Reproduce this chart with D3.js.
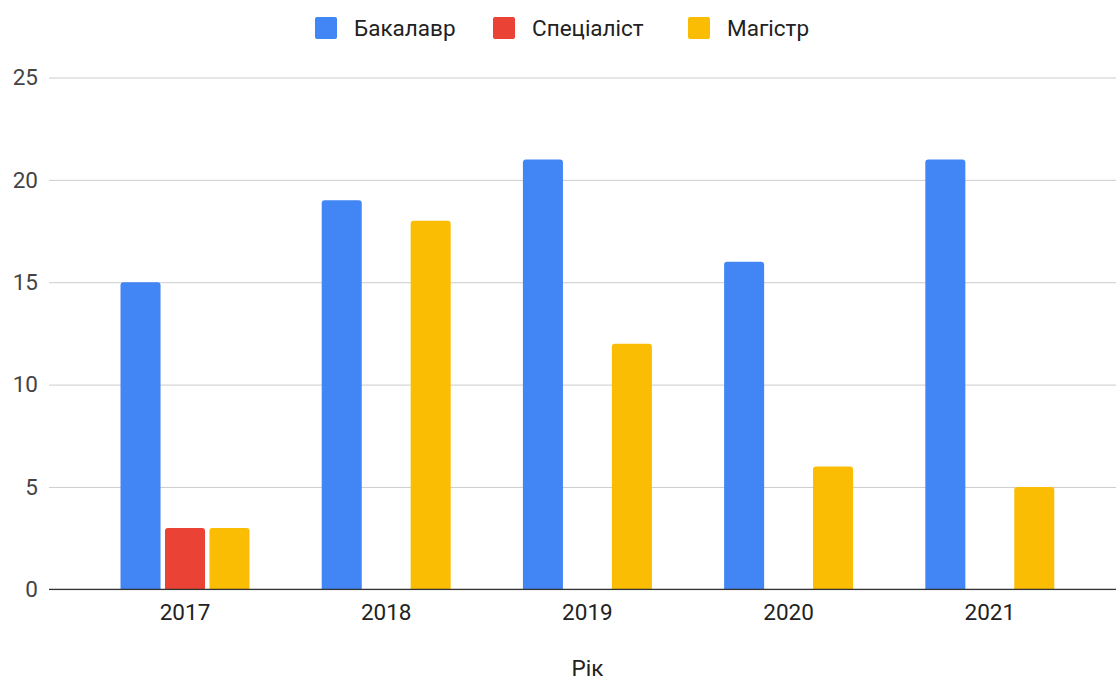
<!DOCTYPE html>
<html>
<head>
<meta charset="utf-8">
<script src="https://cdn.jsdelivr.net/npm/d3@7"></script>
<style>
  body { margin: 0; background: #fff; }
  text { font-family: Roboto, "Noto Sans", sans-serif; }
</style>
</head>
<body>
<div id="container"></div>
<script>
/* CONSTANTS AND GLOBALS */
const width = 1116,
  height = 681,
  fontSize = "22.5px";

/* DATA */
const years = ["2017", "2018", "2019", "2020", "2021"];
const seriesNames = ["Бакалавр", "Спеціаліст", "Магістр"];
const bachelor = [15, 19, 21, 16, 21];
const specialist = [3, 0, 0, 0, 0];
const master = [3, 18, 12, 6, 5];
const yTicks = [0, 5, 10, 15, 20, 25];
const colors = ["#4285f4", "#ea4335", "#fbbc04"];
const xTitle = "Рік";

const seriesValues = [bachelor, specialist, master];
const data = years.map((y, i) => ({
  year: y,
  values: seriesNames.map((s, j) => ({ key: s, value: seriesValues[j][i] }))
}));

/* SCALES */
const xScale = d3.scaleBand()
  .domain(years)
  .range([84.4, 1090.4])
  .paddingInner(0.359)
  .paddingOuter(0.1795);

const xSub = d3.scaleBand()
  .domain(seriesNames)
  .range([0, xScale.bandwidth()])
  .paddingInner(0.1);

const yScale = d3.scaleLinear()
  .domain([0, 25])
  .range([589.3, 77.5]);

const colorScale = d3.scaleOrdinal()
  .domain(seriesNames)
  .range(colors);

/* HTML ELEMENTS */
const svg = d3.select("#container")
  .append("svg")
  .attr("width", width)
  .attr("height", height);

// gridlines + y labels
const yAxis = d3.axisLeft(yScale)
  .tickValues(yTicks)
  .tickSize(-(1116 - 49))
  .tickPadding(11);
const gy = svg.append("g")
  .attr("transform", "translate(49, 0)")
  .call(yAxis);
gy.select(".domain").remove();
gy.selectAll(".tick line").attr("stroke", "#cccccc").attr("stroke-width", 1);
gy.selectAll(".tick text")
  .attr("fill", "#444444")
  .style("font-size", fontSize);

// bars
const groups = svg.selectAll(".group")
  .data(data)
  .join("g")
  .attr("class", "group")
  .attr("transform", d => `translate(${xScale(d.year)}, 0)`);

groups.selectAll("path")
  .data(d => d.values.filter(v => v.value > 0))
  .join("path")
  .attr("fill", d => colorScale(d.key))
  .attr("d", d => {
    const x = xSub(d.key), w = xSub.bandwidth();
    const y0 = yScale(0), y1 = yScale(d.value), r = 3;
    return `M${x},${y0}V${y1 + r}Q${x},${y1} ${x + r},${y1}H${x + w - r}Q${x + w},${y1} ${x + w},${y1 + r}V${y0}Z`;
  });

// baseline
svg.append("line")
  .attr("x1", 49).attr("x2", 1116)
  .attr("y1", yScale(0)).attr("y2", yScale(0))
  .attr("stroke", "#333333")
  .attr("stroke-width", 1.3);

// x axis labels
const xAxis = d3.axisBottom(xScale).tickSize(0).tickPadding(15);
const gx = svg.append("g")
  .attr("transform", `translate(0, ${yScale(0)})`)
  .call(xAxis);
gx.select(".domain").remove();
gx.selectAll(".tick text")
  .attr("fill", "#222222")
  .style("font-size", fontSize);

// x title
svg.append("text")
  .attr("x", (xScale.range()[0] + xScale.range()[1]) / 2)
  .attr("y", 676)
  .attr("text-anchor", "middle")
  .attr("fill", "#222222")
  .style("font-size", fontSize)
  .text(xTitle);

// legend
const legendX = [315, 493, 688];
const legend = svg.selectAll(".legend")
  .data(seriesNames)
  .join("g")
  .attr("class", "legend")
  .attr("transform", (d, i) => `translate(${legendX[i]}, 17)`);
legend.append("rect")
  .attr("width", 22).attr("height", 22)
  .attr("rx", 2)
  .attr("fill", d => colorScale(d));
legend.append("text")
  .attr("x", 39).attr("y", 19)
  .attr("fill", "#222222")
  .style("font-size", fontSize)
  .text(d => d);
</script>
</body>
</html>
